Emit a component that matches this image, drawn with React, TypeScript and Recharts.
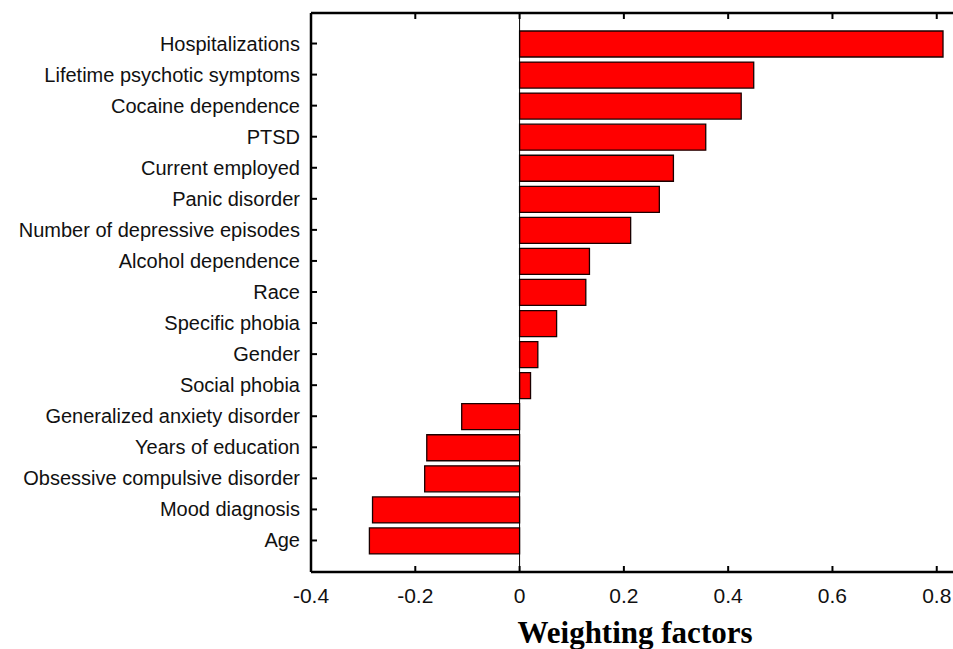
import { BarChart, Bar, XAxis, YAxis, ReferenceLine } from "recharts";

const factors = [
  "Hospitalizations",
  "Lifetime psychotic symptoms",
  "Cocaine dependence",
  "PTSD",
  "Current employed",
  "Panic disorder",
  "Number of depressive episodes",
  "Alcohol dependence",
  "Race",
  "Specific phobia",
  "Gender",
  "Social phobia",
  "Generalized anxiety disorder",
  "Years of education",
  "Obsessive compulsive disorder",
  "Mood diagnosis",
  "Age",
];

const weights = [
  0.812, 0.449, 0.425, 0.357, 0.295, 0.268, 0.213, 0.134, 0.127, 0.071, 0.035,
  0.021, -0.111, -0.178, -0.182, -0.282, -0.288,
];

const xTicks = [-0.4, -0.2, 0, 0.2, 0.4, 0.6, 0.8];

const SANS = "'Liberation Sans', Arial, Helvetica, sans-serif";

const chartData = factors.map((name, i) => ({ name, value: weights[i] }));

// ticks point inward, labels stay outside
const BottomTick = ({ x, y, payload }: any) => (
  <g>
    <line x1={x} y1={y} x2={x} y2={y - 6} stroke="#000" strokeWidth={2} />
    <text x={x} y={y + 31} textAnchor="middle" fill="#111" style={{ fontSize: 21, fontFamily: SANS }}>
      {String(payload.value)}
    </text>
  </g>
);

const TopTick = ({ x, y }: any) => (
  <line x1={x} y1={y} x2={x} y2={y + 6} stroke="#000" strokeWidth={2} />
);

const LeftTick = ({ x, y, payload }: any) => (
  <g>
    <line x1={x} y1={y} x2={x + 6} y2={y} stroke="#000" strokeWidth={2} />
    <text x={x - 11} y={y + 7} textAnchor="end" fill="#111" style={{ fontSize: 20, fontFamily: SANS }}>
      {payload.value}
    </text>
  </g>
);

export default function App() {
  return (
    <div style={{ position: "absolute", left: 0, top: 0, width: 953, height: 649, overflow: "hidden", background: "#fff" }}>
      <BarChart width={960} height={649} data={chartData} layout="vertical"
        margin={{ top: 12, right: 5, bottom: 0, left: 0 }} barSize={26}>
        <XAxis type="number" dataKey="value" domain={[-0.4, 0.835]} ticks={xTicks}
          allowDataOverflow height={77} tickSize={0} tickMargin={0} tickLine={false}
          axisLine={{ stroke: "#000", strokeWidth: 2.5 }} tick={<BottomTick />} interval={0}
          label={{ value: "Weighting factors", position: "insideBottom", offset: 6, dx: 2,
            style: { fontSize: 31, fontWeight: "bold", fontFamily: "'Liberation Serif', 'Times New Roman', serif", fill: "#000" } }} />
        <XAxis xAxisId="top" orientation="top" type="number" domain={[-0.4, 0.835]} ticks={xTicks}
          allowDataOverflow height={1} tickSize={0} tickMargin={0} tickLine={false}
          axisLine={{ stroke: "#000", strokeWidth: 2.5 }} tick={<TopTick />} interval={0} />
        <YAxis type="category" dataKey="name" width={311} tickSize={0} tickMargin={0} tickLine={false}
          axisLine={{ stroke: "#000", strokeWidth: 2.5 }} tick={<LeftTick />} interval={0}
          padding={{ top: 15, bottom: 16 }} />
        <Bar dataKey="value" fill="#ff0000" stroke="#1a0000" strokeWidth={1.3} isAnimationActive={false} />
        <ReferenceLine x={0} stroke="#000" strokeWidth={1} />
      </BarChart>
    </div>
  );
}
